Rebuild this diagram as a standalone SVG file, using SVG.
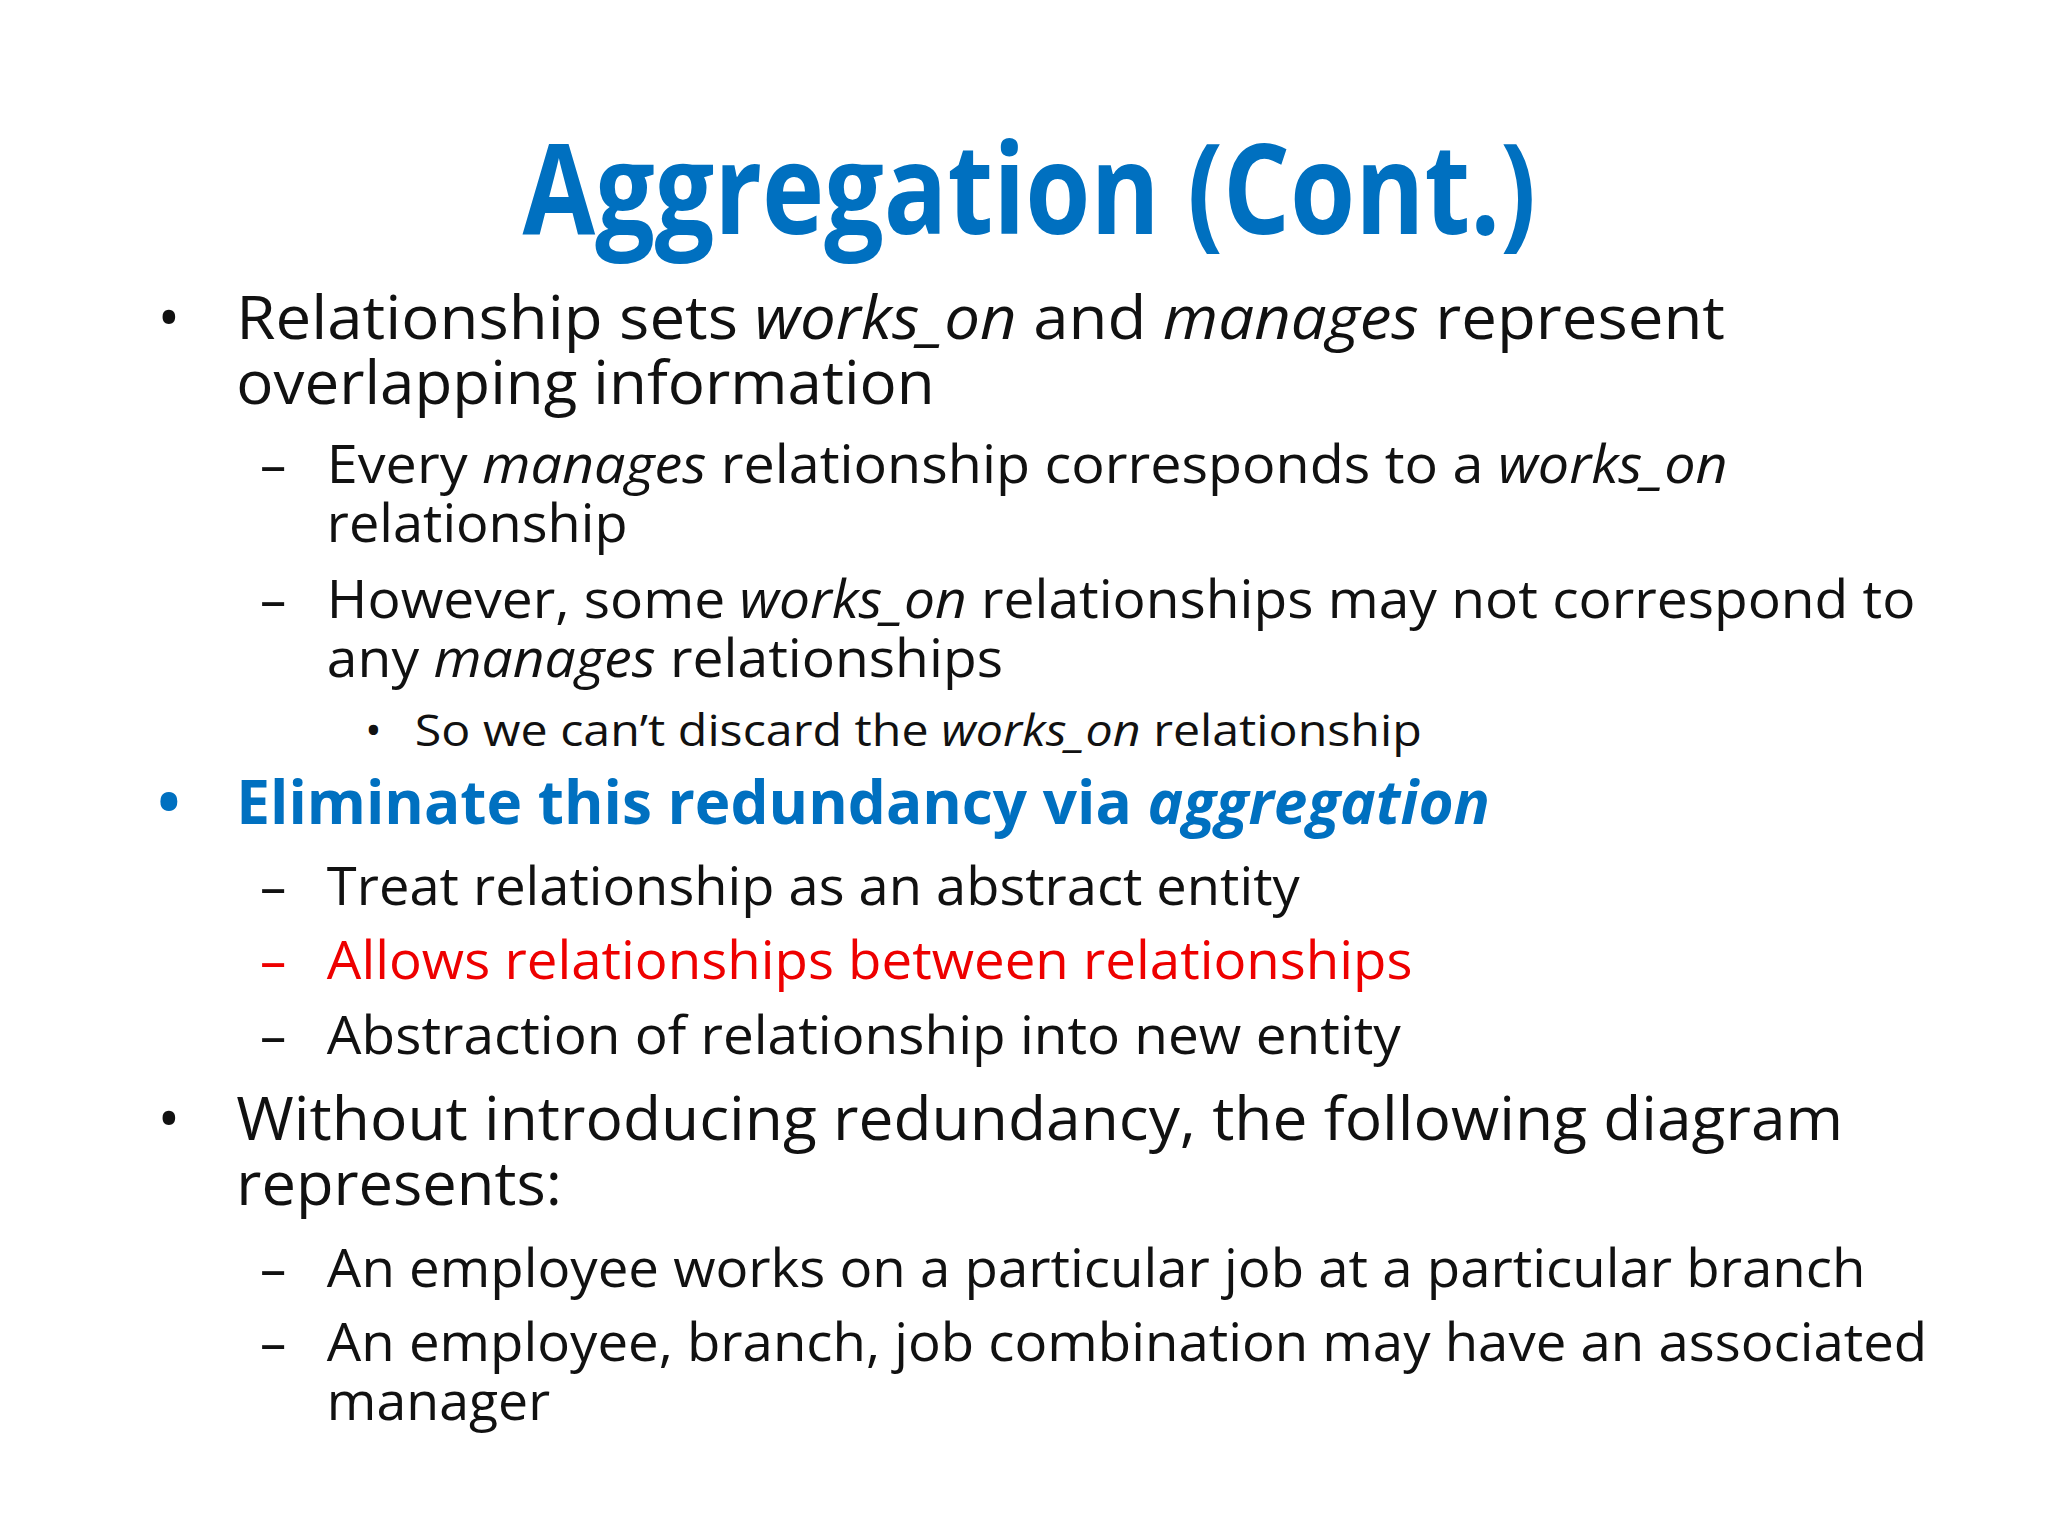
<svg xmlns="http://www.w3.org/2000/svg" width="2048" height="1536" viewBox="0 0 2048 1536">
<style>
text{font-family:"Open Sans","Liberation Sans",sans-serif;fill:#111}
.t{font-size:96px;font-weight:bold;fill:#0070C0}
.l1{font-size:46px}
.l2{font-size:40px}
.l3{font-size:34px}
.i{font-style:italic}
.b{fill:#0070C0;font-weight:bold}
.r{fill:#EE0000}
</style>
<rect width="2048" height="1536" fill="#fff"/>
<g transform="scale(1.3128)">
<g id="title"><text class="t" x="398" y="178" textLength="772" lengthAdjust="spacingAndGlyphs">Aggregation (Cont.)</text></g>
<g id="body">
<text class="l1" x="120" y="258">•</text>
<text class="l1" x="180" y="258" textLength="1134" lengthAdjust="spacingAndGlyphs">Relationship sets <tspan class="i">works_on</tspan> and <tspan class="i">manages</tspan> represent</text>
<text class="l1" x="180" y="308" textLength="532" lengthAdjust="spacingAndGlyphs">overlapping information</text>
<text class="l2" x="198" y="368">–</text>
<text class="l2" x="249" y="368" textLength="1067" lengthAdjust="spacingAndGlyphs">Every <tspan class="i">manages</tspan> relationship corresponds to a <tspan class="i">works_on</tspan></text>
<text class="l2" x="249" y="413" textLength="229" lengthAdjust="spacingAndGlyphs">relationship</text>
<text class="l2" x="198" y="471">–</text>
<text class="l2" x="249" y="471" textLength="1210" lengthAdjust="spacingAndGlyphs">However, some <tspan class="i">works_on</tspan> relationships may not correspond to</text>
<text class="l2" x="249" y="516" textLength="515" lengthAdjust="spacingAndGlyphs">any <tspan class="i">manages</tspan> relationships</text>
<text class="l3" x="278" y="568">•</text>
<text class="l3" x="316" y="568" textLength="767" lengthAdjust="spacingAndGlyphs">So we can’t discard the <tspan class="i">works_on</tspan> relationship</text>
<text class="l1 b" x="120" y="628">•</text>
<text class="l1 b" x="180" y="628" textLength="955" lengthAdjust="spacingAndGlyphs">Eliminate this redundancy via <tspan class="i">aggregation</tspan></text>
<text class="l2" x="198" y="689">–</text>
<text class="l2" x="249" y="689" textLength="741" lengthAdjust="spacingAndGlyphs">Treat relationship as an abstract entity</text>
<text class="l2 r" x="198" y="746">–</text>
<text class="l2 r" x="249" y="746" textLength="827" lengthAdjust="spacingAndGlyphs">Allows relationships between relationships</text>
<text class="l2" x="198" y="803">–</text>
<text class="l2" x="249" y="803" textLength="818" lengthAdjust="spacingAndGlyphs">Abstraction of relationship into new entity</text>
<text class="l1" x="120" y="868">•</text>
<text class="l1" x="180" y="868" textLength="1224" lengthAdjust="spacingAndGlyphs">Without introducing redundancy, the following diagram</text>
<text class="l1" x="180" y="918" textLength="248" lengthAdjust="spacingAndGlyphs">represents:</text>
<text class="l2" x="198" y="980">–</text>
<text class="l2" x="249" y="980" textLength="1172" lengthAdjust="spacingAndGlyphs">An employee works on a particular job at a particular branch</text>
<text class="l2" x="198" y="1037">–</text>
<text class="l2" x="249" y="1037" textLength="1219" lengthAdjust="spacingAndGlyphs">An employee, branch, job combination may have an associated</text>
<text class="l2" x="249" y="1082" textLength="170" lengthAdjust="spacingAndGlyphs">manager</text>
</g>
</g>
</svg>
